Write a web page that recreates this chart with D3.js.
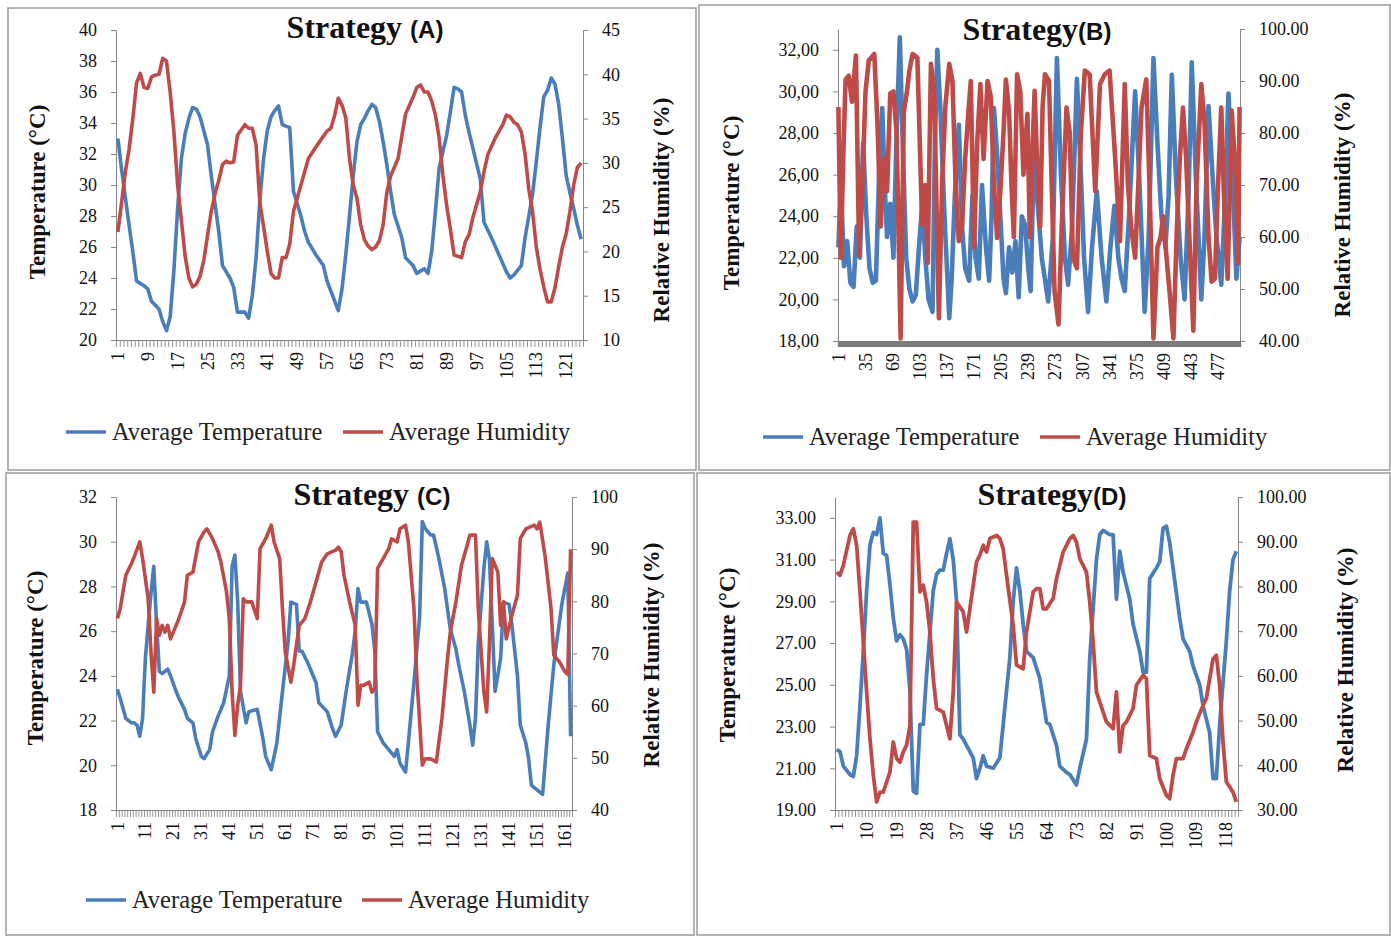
<!DOCTYPE html>
<html>
<head>
<meta charset="utf-8">
<script src="https://cdn.jsdelivr.net/npm/d3@7"></script>
<style>
    body { margin: 0; background: #fff; }
    svg { display: block; }
</style>
</head>
<body>
<svg id="chart" width="1391" height="936"></svg>
<script>
// ---- data: [day index, value] ----
const tempA = [[1,33.0],[2,31.0],[4,27.4],[5,25.7],[6,23.8],[8,23.5],[9,23.3],[10,22.5],[12,22.0],[13,21.2],[14,20.6],[15,21.5],[16,24.5],[17,28.5],[18,31.7],[19,33.3],[20,34.3],[21,35.0],[22,34.9],[23,34.4],[25,32.6],[26,30.6],[27,28.8],[28,27.0],[29,24.8],[31,24.0],[32,23.4],[33,21.8],[35,21.8],[36,21.4],[37,22.9],[38,25.3],[39,29.0],[40,31.7],[41,33.5],[42,34.4],[43,34.8],[44,35.1],[45,33.9],[47,33.7],[48,29.6],[50,28.0],[51,27.0],[52,26.3],[54,25.5],[56,24.8],[57,23.8],[60,21.9],[61,23.3],[62,25.5],[63,28.0],[64,30.6],[65,32.8],[66,33.9],[67,34.3],[68,34.8],[69,35.2],[70,35.0],[71,34.1],[72,32.8],[73,31.3],[74,29.6],[75,28.1],[77,26.6],[78,25.3],[80,24.8],[81,24.3],[83,24.6],[84,24.3],[85,25.7],[86,28.3],[87,31.1],[89,33.2],[90,34.7],[91,36.3],[92,36.2],[93,36.0],[94,34.5],[95,33.4],[96,32.4],[98,30.4],[99,27.6],[101,26.6],[103,25.5],[105,24.4],[106,24.0],[107,24.2],[109,24.8],[110,26.6],[112,29.4],[113,31.5],[114,33.7],[115,35.7],[116,36.1],[117,36.9],[118,36.5],[119,35.2],[120,33.0],[121,30.6],[122,29.5],[123,28.5],[124,27.4],[125,26.5]];
const humA = [[1,22.2],[2,25.5],[3,29.0],[4,31.5],[5,35.0],[6,39.0],[7,40.1],[8,38.5],[9,38.4],[10,39.7],[11,39.9],[12,40.0],[13,41.8],[14,41.5],[15,38.0],[16,33.5],[17,27.5],[18,23.5],[19,19.5],[20,17.0],[21,16.0],[22,16.3],[23,17.2],[24,19.0],[25,21.8],[26,24.5],[27,26.5],[28,28.0],[29,29.8],[30,30.2],[31,30.0],[32,30.1],[33,33.1],[34,33.7],[35,34.3],[36,33.9],[37,33.9],[38,32.0],[39,25.5],[40,22.8],[41,20.0],[42,17.5],[43,17.0],[44,17.0],[45,19.3],[46,19.3],[47,20.8],[48,24.5],[50,27.5],[52,30.5],[54,31.8],[55,32.4],[57,33.6],[58,33.9],[59,35.3],[60,37.3],[61,36.5],[62,35.1],[63,30.5],[64,27.5],[65,26.0],[66,23.0],[67,21.3],[68,20.6],[69,20.2],[70,20.5],[71,21.2],[72,23.0],[73,26.7],[74,28.5],[76,30.5],[77,33.0],[78,35.5],[80,37.4],[81,38.5],[82,38.8],[83,38.0],[84,38.0],[85,37.0],[86,35.4],[87,32.8],[88,28.6],[89,25.2],[90,22.5],[91,19.6],[93,19.3],[94,21.1],[95,21.9],[96,23.8],[98,26.7],[99,29.0],[100,30.9],[102,32.8],[104,34.3],[105,35.4],[106,35.2],[107,34.6],[108,34.3],[109,33.5],[110,31.0],[111,27.0],[112,24.5],[113,20.5],[114,18.0],[115,16.0],[116,14.3],[117,14.3],[118,15.9],[119,18.3],[120,20.5],[121,22.0],[122,24.5],[123,27.5],[124,29.5],[125,30.0]];

const tempB = [[1,22.5],[4,25.5],[8,21.6],[12,22.8],[16,20.8],[20,20.6],[24,23.5],[28,22.0],[32,27.5],[36,24.0],[40,21.5],[44,20.8],[48,20.9],[52,26.0],[56,29.2],[59,25.5],[62,23.0],[66,24.6],[70,22.0],[74,28.0],[78,32.6],[82,27.0],[86,22.0],[90,20.5],[94,19.9],[98,20.2],[102,22.5],[106,24.5],[110,22.0],[114,20.0],[119,19.4],[122,27.5],[125,32.0],[129,29.0],[134,24.0],[140,19.1],[143,21.0],[147,25.0],[152,28.4],[156,23.5],[160,21.5],[165,20.9],[169,25.0],[173,22.0],[177,21.0],[181,25.5],[186,22.5],[190,20.9],[193,24.0],[196,29.2],[200,27.0],[204,24.0],[208,21.0],[211,20.3],[215,22.5],[219,21.3],[223,22.8],[227,20.1],[231,24.0],[235,23.6],[239,21.5],[242,20.4],[246,26.8],[250,25.0],[256,22.0],[264,19.9],[270,23.0],[275,31.6],[280,26.0],[285,22.0],[289,20.7],[294,23.5],[300,30.6],[305,26.0],[309,22.0],[314,19.4],[319,22.5],[325,25.2],[331,22.0],[337,19.9],[342,22.5],[347,24.5],[352,22.0],[356,21.0],[360,20.4],[366,24.5],[373,30.0],[378,26.0],[385,19.4],[390,23.0],[396,31.6],[401,27.5],[406,24.0],[411,22.5],[415,25.0],[419,30.8],[424,26.0],[430,22.0],[435,20.0],[440,25.0],[444,31.4],[449,26.0],[456,20.0],[460,23.0],[465,29.3],[470,26.0],[475,23.0],[481,20.7],[486,25.0],[490,29.9],[495,26.0],[500,21.0],[504,23.0]];
const humB = [[1,85],[4,56],[7,75],[10,90.3],[14,91],[18,86],[23,94.9],[27,56.4],[31,70],[35,88],[39,93.9],[46,95.2],[50,81.7],[54,62],[58,75],[62,68.8],[66,87.6],[70,88],[74,80],[79,40.5],[83,84],[87,88],[90,92],[94,95.2],[100,94.5],[106,62.4],[110,70],[113,55],[117,93.3],[121,88],[127,44.4],[131,70],[135,85],[140,93.3],[144,90],[148,70],[152,59.2],[156,62],[160,75.2],[164,84],[167,90],[171,58],[175,78],[179,89.4],[183,75],[188,90],[192,87],[196,70],[200,59.8],[204,68.8],[208,80],[211,90.3],[215,84],[218,70],[221,60],[225,91.3],[229,88],[233,72],[238,83.7],[241,60],[244,75],[247,88.1],[251,70],[254,62],[257,85],[260,91.3],[265,90],[272,49.5],[277,43.2],[281,62],[287,84.9],[291,80],[295,56],[300,54],[305,80],[310,92],[316,91.3],[323,68.8],[329,89.4],[335,91.3],[341,92],[348,75.2],[354,59.2],[360,89.4],[364,70],[368,62],[373,56],[377,70],[381,84.9],[387,90.3],[391,70],[396,40.5],[401,58],[405,60],[408,64],[413,55],[417,48],[421,40.5],[425,60],[429,75],[433,84.9],[437,75],[441,60],[446,42],[450,70],[456,89.4],[460,82],[465,60],[469,51.4],[473,52],[477,70],[481,84.9],[485,65],[489,52],[494,84.3],[498,75],[502,55],[504,85]];

const tempC = [[1,23.4],[2,23.0],[4,22.1],[6,21.9],[7,21.9],[8,21.8],[9,21.3],[10,22.1],[11,24.8],[13,27.7],[14,28.9],[15,26.3],[16,24.2],[17,24.1],[19,24.3],[20,24.0],[22,23.3],[23,23.0],[25,22.5],[26,22.1],[28,21.9],[29,21.2],[31,20.4],[32,20.3],[34,20.7],[35,21.5],[37,22.2],[39,22.8],[41,24.0],[42,28.9],[43,29.4],[44,27.3],[45,23.3],[47,21.9],[48,22.4],[51,22.5],[53,21.2],[54,20.4],[56,19.8],[58,21.0],[60,23.3],[62,25.5],[63,27.3],[65,27.2],[66,25.1],[67,25.1],[69,24.6],[72,23.7],[73,22.8],[76,22.4],[78,21.6],[79,21.3],[81,21.8],[83,23.5],[85,25.0],[86,26.0],[87,27.9],[88,27.3],[90,27.3],[92,26.3],[93,25.1],[94,21.5],[96,21.0],[98,20.7],[100,20.4],[101,20.7],[102,20.1],[104,19.7],[105,21.0],[107,23.7],[109,26.6],[110,30.9],[111,30.6],[113,30.3],[114,30.3],[116,29.2],[118,27.9],[120,26.1],[122,25.2],[123,24.5],[125,23.3],[127,21.8],[128,20.9],[129,22.1],[130,25.5],[132,28.8],[133,30.0],[134,29.2],[135,26.3],[136,23.3],[138,24.8],[139,27.3],[141,27.2],[142,26.3],[144,24.0],[145,21.8],[147,21.0],[148,20.3],[149,19.1],[151,18.9],[153,18.7],[155,21.8],[157,24.5],[158,25.5],[160,27.3],[162,28.6],[163,21.3]];
const humC = [[1,76.7],[2,78.6],[4,85.0],[6,87.2],[7,88.5],[9,91.4],[10,88.2],[12,80.5],[13,70.3],[14,62.6],[15,76.7],[16,73.5],[17,75.4],[18,74.1],[19,75.4],[20,72.8],[22,75.4],[23,76.7],[25,79.9],[26,85.0],[28,85.6],[30,91.4],[32,93.3],[33,93.9],[35,92.0],[37,89.5],[38,87.5],[40,81.8],[41,76.7],[42,62.6],[43,54.3],[44,60.1],[45,63.9],[46,80.5],[47,79.9],[49,79.9],[51,76.7],[52,90.1],[54,92.0],[55,93.3],[56,94.6],[57,91.4],[59,88.2],[60,78.6],[61,70.3],[63,64.5],[64,67.7],[66,75.4],[68,76.7],[70,79.9],[72,83.7],[74,87.5],[76,89.1],[79,89.8],[80,90.4],[81,89.5],[82,85.0],[84,79.9],[86,75.4],[87,60.1],[88,63.9],[89,63.9],[91,64.5],[92,62.6],[93,63.3],[94,86.3],[96,88.2],[98,90.1],[99,92.0],[101,91.4],[102,93.9],[104,94.6],[105,91.4],[107,78.6],[108,65.8],[110,48.6],[111,49.8],[113,49.8],[115,49.2],[117,57.5],[119,69.0],[120,74.1],[122,79.9],[124,86.9],[126,90.7],[127,92.7],[129,92.7],[130,78.6],[132,62.6],[133,58.8],[134,72.2],[135,88.2],[137,85.6],[138,75.4],[139,79.9],[140,72.8],[142,77.3],[144,81.2],[145,92.0],[147,93.9],[150,94.6],[151,93.9],[152,95.2],[154,88.2],[156,78.6],[157,69.7],[159,68.4],[161,66.5],[162,66.0],[163,90.0]];

const tempD = [[1,21.9],[2,21.8],[3,21.1],[5,20.7],[6,20.6],[7,21.6],[8,24.0],[9,26.6],[10,29.5],[11,31.7],[12,32.3],[13,32.2],[14,33.0],[15,31.3],[16,31.2],[17,29.8],[18,28.2],[19,27.1],[20,27.4],[21,27.2],[22,26.7],[23,24.7],[24,19.9],[25,19.8],[26,23.1],[27,23.1],[28,25.5],[29,27.5],[30,29.5],[31,30.3],[32,30.5],[33,30.5],[34,31.3],[35,32.0],[36,31.0],[37,29.0],[38,22.6],[39,22.4],[40,22.1],[42,21.5],[43,20.5],[44,21.0],[45,21.6],[46,21.1],[48,21.0],[50,21.5],[51,23.1],[53,26.3],[54,29.0],[55,30.6],[56,29.5],[57,27.9],[58,26.6],[60,26.3],[62,25.3],[64,23.2],[65,23.1],[67,22.1],[68,21.1],[70,20.8],[71,20.7],[73,20.2],[74,21.0],[76,22.4],[77,26.3],[79,31.0],[80,32.2],[81,32.4],[83,32.2],[84,32.2],[85,29.1],[86,31.4],[87,30.4],[89,29.1],[90,27.9],[92,26.6],[93,25.6],[94,25.6],[95,30.1],[97,30.6],[98,30.9],[99,32.5],[100,32.6],[101,31.8],[102,30.6],[104,28.2],[105,27.2],[107,26.6],[108,25.9],[110,25.0],[111,24.0],[113,22.7],[114,20.5],[115,20.5],[116,23.1],[118,27.1],[119,29.5],[120,31.0],[121,31.4]];
const humD = [[1,83.2],[2,82.5],[3,84.7],[5,91.4],[6,92.9],[7,89.2],[8,78.8],[9,67.6],[10,56.4],[11,45.9],[12,37.8],[13,31.8],[14,34.0],[15,34.0],[17,38.5],[18,45.2],[19,41.5],[20,40.7],[21,43.0],[22,44.5],[23,48.9],[24,94.4],[25,94.4],[26,78.8],[27,80.3],[28,76.5],[29,69.8],[30,59.4],[31,52.7],[33,51.9],[34,48.9],[35,45.9],[36,56.4],[37,76.5],[39,74.3],[40,69.8],[41,75.0],[43,85.5],[44,87.0],[45,89.2],[46,87.7],[47,90.7],[49,91.4],[50,90.7],[51,88.4],[52,82.5],[54,71.3],[55,62.4],[57,61.6],[58,69.8],[60,78.8],[61,79.5],[62,79.5],[63,75.0],[64,75.0],[66,77.3],[67,81.7],[69,87.7],[70,89.2],[71,90.7],[72,91.4],[73,89.9],[74,86.2],[76,83.2],[77,76.5],[78,67.6],[79,56.4],[81,51.9],[82,49.7],[84,48.2],[85,56.4],[86,43.0],[87,48.9],[88,49.7],[90,52.7],[91,57.9],[93,60.1],[94,59.4],[95,42.2],[97,41.5],[98,37.0],[100,33.3],[101,32.5],[102,37.8],[103,41.5],[105,41.5],[106,43.7],[108,47.4],[109,49.7],[111,53.4],[112,54.9],[114,63.8],[115,64.6],[116,57.9],[117,45.2],[118,36.3],[120,34.0],[121,31.8]];

// day counts per strategy and axis ticks
const dayCounts = { A: 125, B: 504, C: 163, D: 121 };
const dayLabelSteps = { A: 8, B: 34, C: 10, D: 9 };
const tempTicksA = [20, 22, 24, 26, 28, 30, 32, 34, 36, 38, 40];
const humTicksA = [10, 15, 20, 25, 30, 35, 40, 45];
const tempTicksB = [18, 20, 22, 24, 26, 28, 30, 32];
const humTicksB = [40, 50, 60, 70, 80, 90, 100];
const tempTicksC = [18, 20, 22, 24, 26, 28, 30, 32];
const humTicksC = [40, 50, 60, 70, 80, 90, 100];
const tempTicksD = [19, 21, 23, 25, 27, 29, 31, 33];
const humTicksD = [30, 40, 50, 60, 70, 80, 90, 100];

const seriesNames = ['Average Temperature', 'Average Humidity'];

const BLUE = '#4A7EBB';
const RED = '#BE4B48';
const AXIS = '#868686';
const SERIF = '"Liberation Serif", "Times New Roman", serif';
const SANS = '"Liberation Sans", Arial, sans-serif';

const panels = [
    {
        letter: 'A', gap: ' ', temp: tempA, hum: humA,
        tempDomain: [20, 40], humDomain: [10, 45], tempTicks: tempTicksA, humTicks: humTicksA,
        tempFormat: d3.format('d'), humFormat: d3.format('d'),
        box: [8, 8, 696, 470], plot: { left: 116, right: 583, top: 30, bottom: 340 },
        titleX: 365, titleY: 38, leftTitleX: 37, leftTitleY: 192, rightTitleX: 661, rightTitleY: 210,
        legend: { y: 432, blue: 66, red: 343 }, lineWidth: 3.6
    },
    {
        letter: 'B', gap: '', temp: tempB, hum: humB,
        tempDomain: [18, 33], humDomain: [40, 100], tempTicks: tempTicksB, humTicks: humTicksB,
        tempFormat: (d) => d3.format('.2f')(d).replace('.', ','), humFormat: d3.format('.2f'),
        box: [699, 5, 1390, 470], plot: { left: 838, right: 1240, top: 29, bottom: 341 },
        titleX: 1037, titleY: 40, leftTitleX: 731, leftTitleY: 203, rightTitleX: 1342, rightTitleY: 205,
        legend: { y: 437, blue: 763, red: 1040 }, lineWidth: 4.6
    },
    {
        letter: 'C', gap: ' ', temp: tempC, hum: humC,
        tempDomain: [18, 32], humDomain: [40, 100], tempTicks: tempTicksC, humTicks: humTicksC,
        tempFormat: d3.format('d'), humFormat: d3.format('d'),
        box: [6, 473, 694, 935], plot: { left: 116, right: 572, top: 497, bottom: 810 },
        titleX: 372, titleY: 505, leftTitleX: 35, leftTitleY: 658, rightTitleX: 651, rightTitleY: 655,
        legend: { y: 900, blue: 86, red: 362 }, lineWidth: 3.6
    },
    {
        letter: 'D', gap: '', temp: tempD, hum: humD,
        tempDomain: [19, 34], humDomain: [30, 100], tempTicks: tempTicksD, humTicks: humTicksD,
        tempFormat: d3.format('.2f'), humFormat: d3.format('.2f'),
        box: [697, 473, 1390, 935], plot: { left: 835, right: 1238, top: 497, bottom: 810 },
        titleX: 1052, titleY: 505, leftTitleX: 727, leftTitleY: 655, rightTitleX: 1345, rightTitleY: 660,
        legend: null, lineWidth: 3.8
    }
];

const svg = d3.select('#chart');

function styleAxis(group, fontSize) {
    group.select('.domain').attr('stroke', AXIS).attr('stroke-width', 1);
    group.selectAll('.tick line').attr('stroke', AXIS);
    group.selectAll('text')
        .attr('fill', '#111')
        .style('font-family', SERIF)
        .style('font-size', `${fontSize}px`);
}

function drawPanel(panel) {
    const count = dayCounts[panel.letter];
    const step = dayLabelSteps[panel.letter];
    const { left, right, top, bottom } = panel.plot;
    const group = svg.append('g');

    group.append('rect')
        .attr('x', panel.box[0])
        .attr('y', panel.box[1])
        .attr('width', panel.box[2] - panel.box[0])
        .attr('height', panel.box[3] - panel.box[1])
        .attr('fill', '#fff')
        .attr('stroke', '#9a9a9a')
        .attr('stroke-width', 1.5);

    const xScale = d3.scaleLinear().domain([0.5, count + 0.5]).range([left, right]);
    const tempScale = d3.scaleLinear().domain(panel.tempDomain).range([bottom, top]);
    const humScale = d3.scaleLinear().domain(panel.humDomain).range([bottom, top]);

    group.append('g')
        .attr('transform', `translate(${left},0)`)
        .call(d3.axisLeft(tempScale).tickValues(panel.tempTicks).tickFormat(panel.tempFormat).tickSizeInner(5).tickSizeOuter(0).tickPadding(14))
        .call((axis) => styleAxis(axis, 18));

    group.append('g')
        .attr('transform', `translate(${right},0)`)
        .call(d3.axisRight(humScale).tickValues(panel.humTicks).tickFormat(panel.humFormat).tickSizeInner(5).tickSizeOuter(0).tickPadding(14))
        .call((axis) => styleAxis(axis, 18));

    // one small tick mark between every pair of days, like the spreadsheet category axis
    const boundaries = d3.range(count + 1).map((k) => k + 0.5);
    const dense = panel.letter === 'B';
    group.append('g')
        .attr('transform', `translate(0,${bottom})`)
        .call(d3.axisBottom(xScale).tickValues(boundaries).tickFormat('').tickSizeInner(dense ? 6 : 7).tickSizeOuter(0))
        .call((axis) => {
            axis.select('.domain').attr('stroke', AXIS);
            axis.selectAll('.tick line').attr('stroke', dense ? '#7a7a7a' : AXIS).attr('stroke-width', dense ? 1.4 : 0.9);
        });

    const dayLabels = d3.range(1, count + 1).filter((day) => (day - 1) % step === 0);
    group.append('g')
        .selectAll('text')
        .data(dayLabels)
        .enter()
        .append('text')
        .attr('transform', (day) => `translate(${xScale(day)},${bottom + 12}) rotate(-90)`)
        .attr('dy', '0.34em')
        .attr('text-anchor', 'end')
        .attr('fill', '#111')
        .style('font-family', SERIF)
        .style('font-size', '18px')
        .text((day) => day);

    const tempLine = d3.line().x((d) => xScale(d[0])).y((d) => tempScale(d[1]));
    const humLine = d3.line().x((d) => xScale(d[0])).y((d) => humScale(d[1]));

    group.append('path')
        .attr('d', tempLine(panel.temp))
        .attr('fill', 'none')
        .attr('stroke', BLUE)
        .attr('stroke-width', panel.lineWidth)
        .attr('stroke-linejoin', 'round');

    group.append('path')
        .attr('d', humLine(panel.hum))
        .attr('fill', 'none')
        .attr('stroke', RED)
        .attr('stroke-width', panel.lineWidth)
        .attr('stroke-linejoin', 'round');

    const title = group.append('text')
        .attr('x', panel.titleX)
        .attr('y', panel.titleY)
        .attr('text-anchor', 'middle')
        .attr('fill', '#111');
    title.append('tspan')
        .style('font-family', SERIF)
        .style('font-weight', 'bold')
        .style('font-size', '32px')
        .text(`Strategy${panel.gap}`);
    title.append('tspan')
        .style('font-family', SANS)
        .style('font-weight', 'bold')
        .style('font-size', '24px')
        .text(`(${panel.letter})`);

    group.append('text')
        .attr('transform', `translate(${panel.leftTitleX},${panel.leftTitleY}) rotate(-90)`)
        .attr('text-anchor', 'middle')
        .attr('dy', '0.35em')
        .attr('fill', '#111')
        .style('font-family', SERIF)
        .style('font-weight', 'bold')
        .style('font-size', '23px')
        .text('Temperature (°C)');

    group.append('text')
        .attr('transform', `translate(${panel.rightTitleX},${panel.rightTitleY}) rotate(-90)`)
        .attr('text-anchor', 'middle')
        .attr('dy', '0.35em')
        .attr('fill', '#111')
        .style('font-family', SERIF)
        .style('font-weight', 'bold')
        .style('font-size', '23px')
        .text('Relative Humidity (%)');

    if (panel.legend) {
        const entries = [
            { name: seriesNames[0], color: BLUE, x: panel.legend.blue },
            { name: seriesNames[1], color: RED, x: panel.legend.red }
        ];
        entries.forEach((entry) => {
            group.append('line')
                .attr('x1', entry.x)
                .attr('x2', entry.x + 40)
                .attr('y1', panel.legend.y)
                .attr('y2', panel.legend.y)
                .attr('stroke', entry.color)
                .attr('stroke-width', 3.5);
            group.append('text')
                .attr('x', entry.x + 46)
                .attr('y', panel.legend.y)
                .attr('dy', '0.33em')
                .attr('fill', '#222')
                .style('font-family', SERIF)
                .style('font-size', '24.5px')
                .text(entry.name);
        });
    }
}

panels.forEach(drawPanel);
</script>
</body>
</html>
